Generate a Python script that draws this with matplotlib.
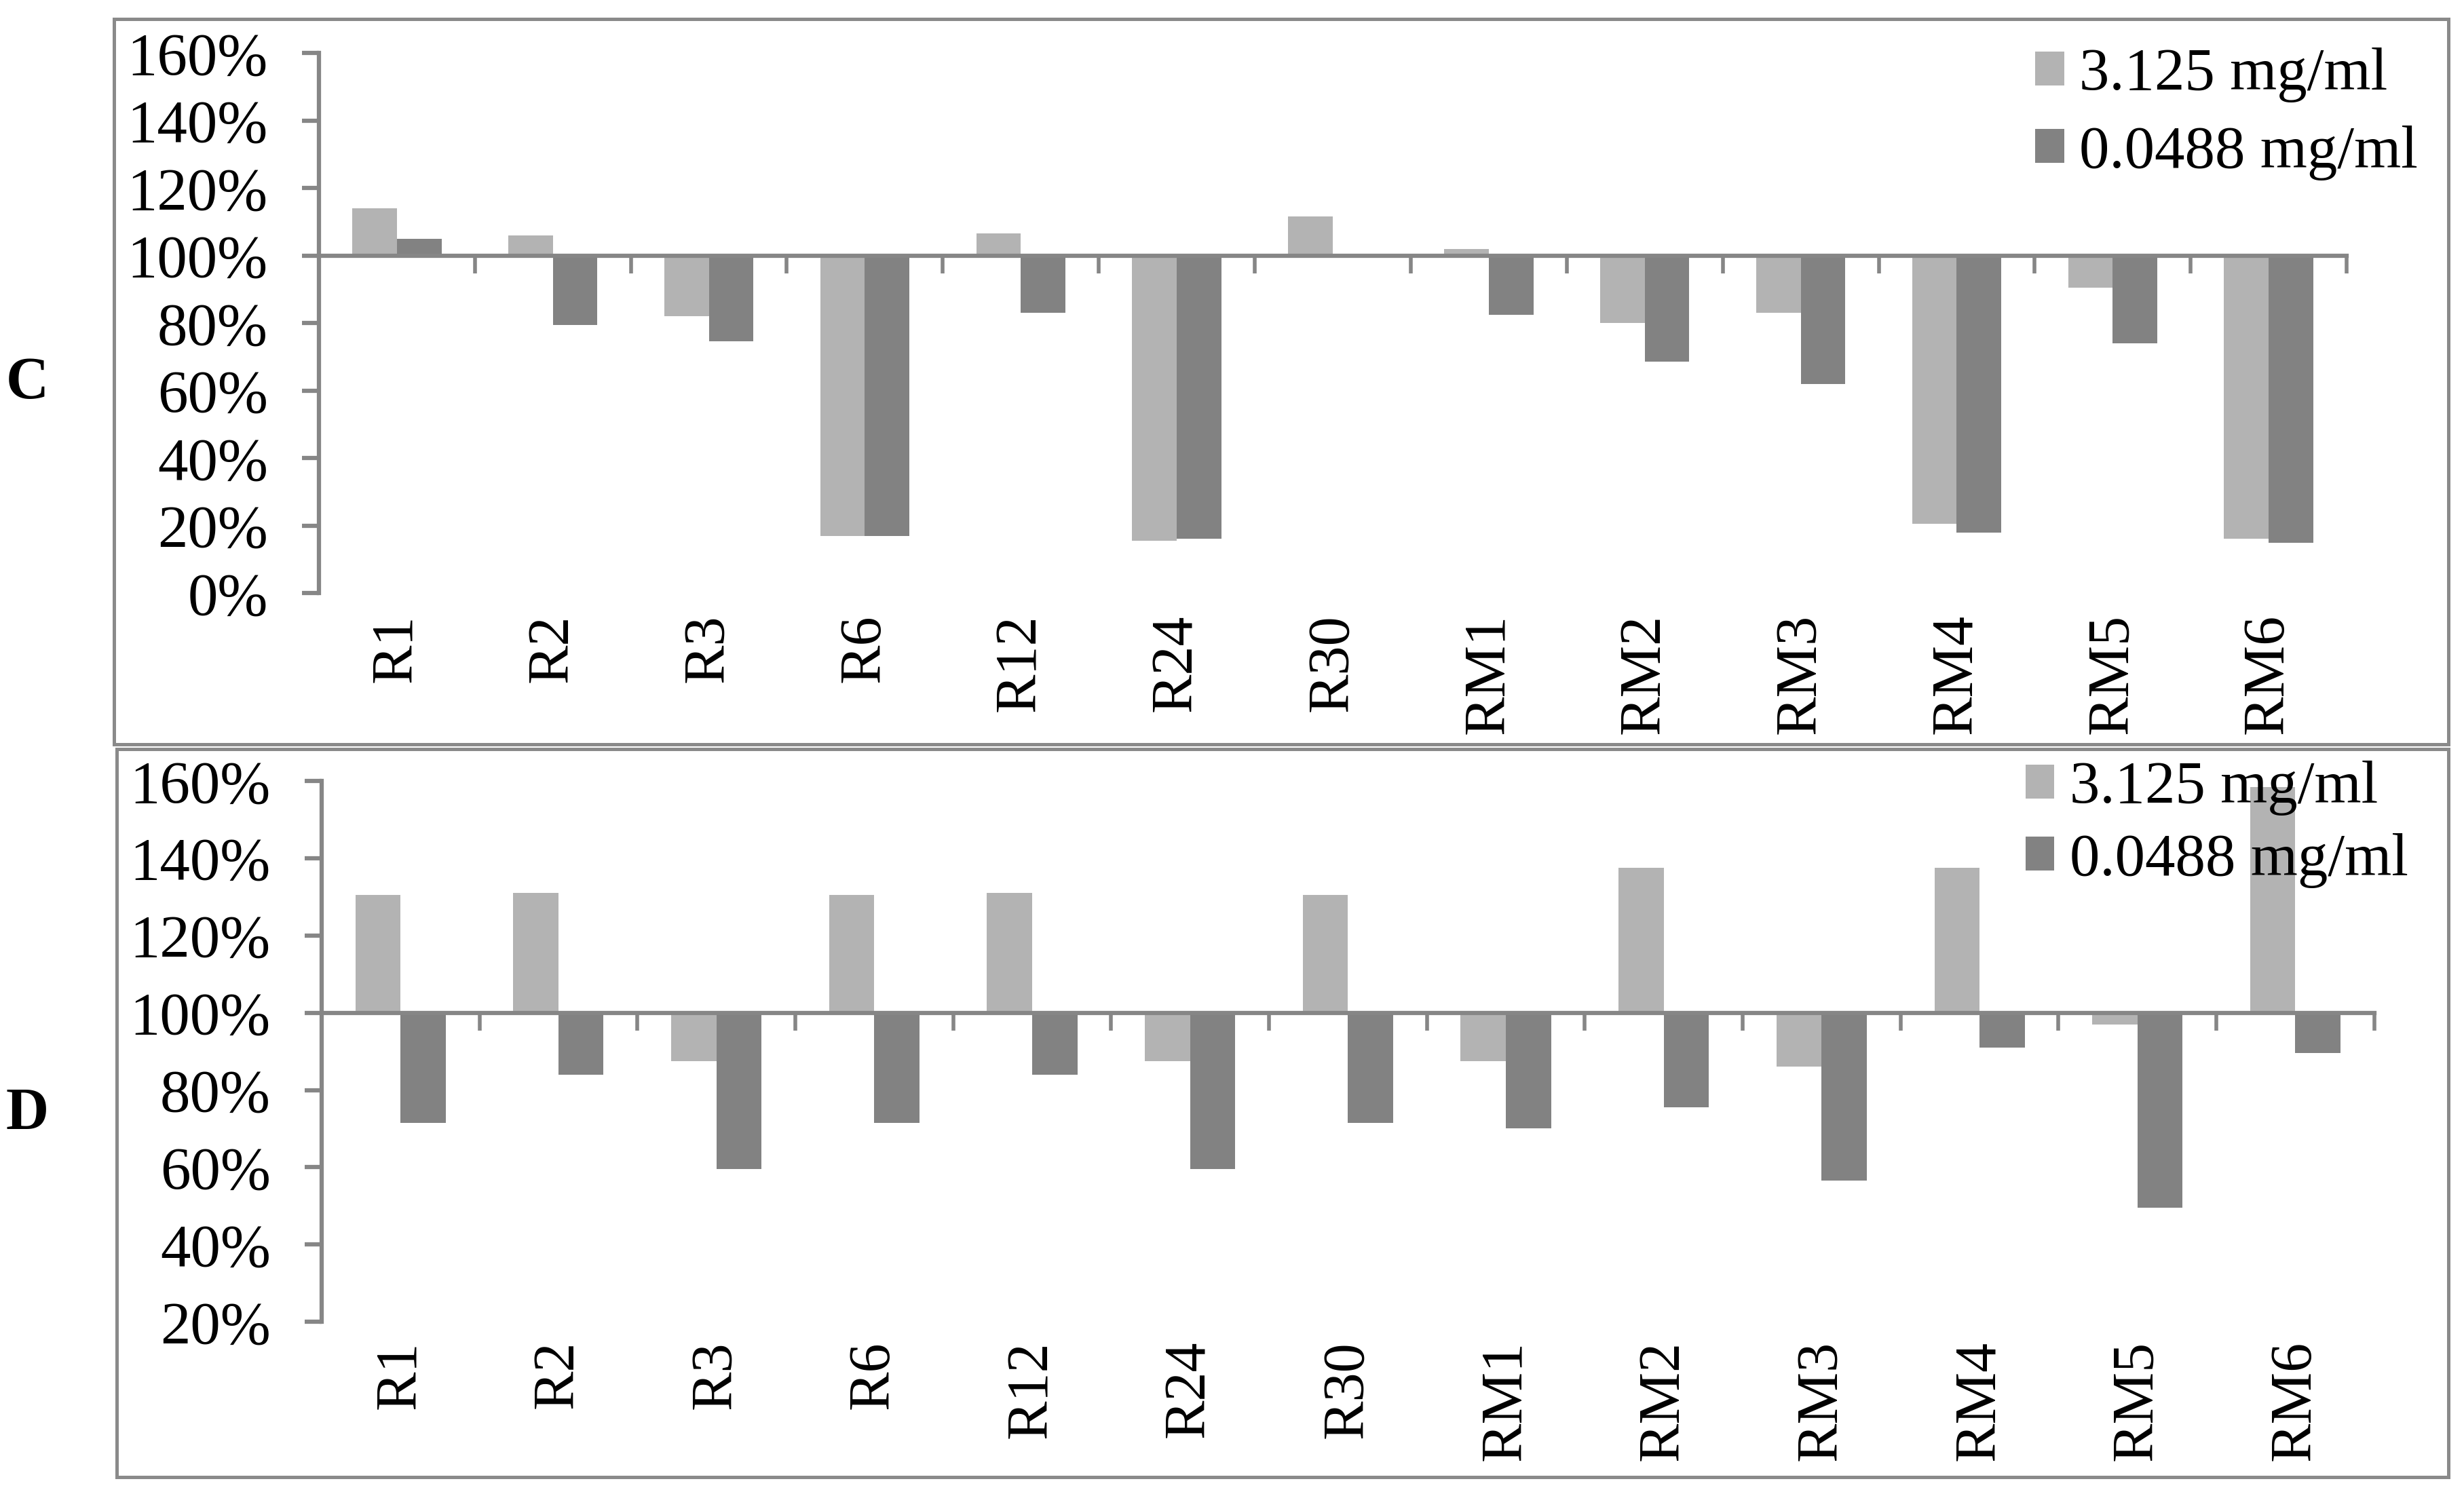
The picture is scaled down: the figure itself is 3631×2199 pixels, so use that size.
import matplotlib
matplotlib.use("Agg")
import matplotlib.pyplot as plt
import matplotlib.transforms as mtransforms
from matplotlib.patches import Rectangle, Patch
from matplotlib.ticker import PercentFormatter
import numpy as np

# sample names on the x axis
categories = ["R1", "R2", "R3", "R6", "R12", "R24", "R30",
              "RM1", "RM2", "RM3", "RM4", "RM5", "RM6"]
series_names = ["3.125 mg/ml", "0.0488 mg/ml"]

# panel C values (fraction of control)
c_high = [1.14, 1.06, 0.82, 0.17, 1.065, 0.155, 1.115, 1.02, 0.80, 0.83, 0.205, 0.905, 0.16]
c_low = [1.05, 0.795, 0.745, 0.17, 0.83, 0.16, 1.00, 0.825, 0.685, 0.62, 0.18, 0.74, 0.148]

# panel D values
d_high = [1.305, 1.31, 0.875, 1.305, 1.31, 0.875, 1.305, 0.875, 1.375, 0.86, 1.375, 0.97, 1.585]
d_low = [0.715, 0.84, 0.595, 0.715, 0.84, 0.595, 0.715, 0.70, 0.755, 0.565, 0.91, 0.495, 0.895]

light = "#b3b3b3"
dark = "#828282"
axis_gray = "#868686"
frame_gray = "#8a8a8a"

plt.rcParams["font.family"] = ["Liberation Serif", "DejaVu Serif"]

fig = plt.figure(figsize=(36.31, 21.99), dpi=100)

# outer frames around each panel
fig.patches.append(Rectangle((0.0463, 0.5011), 0.9474, 0.4861, transform=fig.transFigure,
                             fill=False, edgecolor=frame_gray, linewidth=3.6))
fig.patches.append(Rectangle((0.0474, 0.0100), 0.9463, 0.4880, transform=fig.transFigure,
                             fill=False, edgecolor=frame_gray, linewidth=3.6))


def draw_panel(rect, high, low, ymin, letter, letter_y, legend_anchor, spacing, label_y):
    ax = fig.add_axes(rect)
    x = np.arange(len(categories))
    w = 0.286
    # bars hang from the 100% line
    ax.bar(x - w / 2, np.array(high) - 1.0, w, bottom=1.0, color=light, label=series_names[0])
    ax.bar(x + w / 2, np.array(low) - 1.0, w, bottom=1.0, color=dark, label=series_names[1])

    ax.set_xlim(-0.5, len(categories) - 0.5)
    ax.set_ylim(ymin, 1.6)
    ax.set_yticks(np.arange(ymin, 1.61, 0.2))
    ax.yaxis.set_major_formatter(PercentFormatter(1.0, decimals=0))

    for s in ["top", "right"]:
        ax.spines[s].set_visible(False)
    ax.spines["bottom"].set_position(("data", 1.0))
    for s in ["left", "bottom"]:
        ax.spines[s].set_color(axis_gray)
        ax.spines[s].set_linewidth(4.5)

    ax.set_xticks(np.arange(-0.5, len(categories), 1.0))
    ax.tick_params(axis="x", length=19, width=4.0, color=axis_gray, labelbottom=False)
    ax.tick_params(axis="y", length=18, width=4.5, color=axis_gray, pad=36, labelsize=64)

    # category labels sit below the plotting area
    trans = mtransforms.blended_transform_factory(ax.transData, ax.transAxes)
    for i, name in enumerate(categories):
        ax.text(i, label_y, name, transform=trans, rotation=90, ha="center", va="top",
                fontsize=62)

    handles = [Patch(facecolor=light), Patch(facecolor=dark)]
    ax.legend(handles, series_names, loc="upper left", bbox_to_anchor=legend_anchor,
              bbox_transform=fig.transFigure, frameon=False, fontsize=64,
              handlelength=0.48, handleheight=0.48, handletextpad=0.25,
              labelspacing=spacing, borderpad=0, borderaxespad=0)

    fig.text(0.011, letter_y, letter, fontsize=63, fontweight="bold", ha="center", va="center")
    return ax


draw_panel([0.1294, 0.6025, 0.8230, 0.3620], c_high, c_low, 0.0, "C", 0.743,
           (0.8260, 0.968), 0.375, -0.039)
draw_panel([0.1305, 0.1141, 0.8331, 0.3624], d_high, d_low, 0.2, "D", 0.253,
           (0.8220, 0.490), 0.285, -0.035)

fig.savefig("out.png", dpi=100)
